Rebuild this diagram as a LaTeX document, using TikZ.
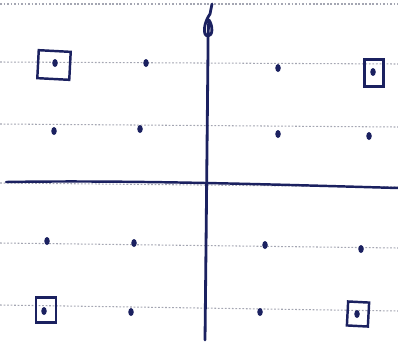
\documentclass[tikz,border=0pt]{standalone}
\usetikzlibrary{shapes.geometric, calc}
\definecolor{cink}{HTML}{1B2160}
\definecolor{crule}{HTML}{A4A6B2}
\tikzset{
  every picture/.style={line width=1.2pt},
  rule/.style={draw=crule, line width=0.6pt, dash pattern=on 1pt off 1pt},
  axis/.style={draw=cink, line width=1.6pt, line cap=round, line join=round},
  pt/.style={ellipse, fill=cink, inner sep=0pt, minimum width=0.11cm, minimum height=0.16cm},
  boxed/.style={draw=cink, line width=1.4pt, inner sep=0pt, fill=none},
}
\begin{document}
\begin{tikzpicture}[x=0.02cm, y=-0.02cm]
  \useasboundingbox (0,0) rectangle (398,342);
  % ruled paper
  \foreach \y/\d in {4/0, 62/2, 124/3, 183/4, 243/5, 305/6}
    \draw[rule] (0,\y) -- (398,\y+\d);
  % axes
  \coordinate (vtop) at (212,4);
  \coordinate (vbot) at (205,340);
  \coordinate (hl) at (6,182);
  \coordinate (hr) at (398,188);
  \draw[axis] (vtop) -- (210,14) .. controls (204,22) and (202,36) .. (208,36)
    .. controls (213,36) and (213,26) .. (209,20) .. controls (208,30) and (208,40) .. (208,50)
    .. controls (207,150) and (206,250) .. (vbot);
  \draw[axis, line width=1.4pt] (hl) .. controls (120,180) and (260,184) .. (hr);
  % dots
  \foreach[count=\r] \row in {{55/63, 146/63, 278/68, 373/72}, {54/131, 140/129, 278/134, 369/136},
      {47/241, 134/243, 265/245, 361/249}, {44/311, 131/312, 260/312, 357/314}} {
    \foreach[count=\c] \x/\y in \row
      \node[pt] (d\r\c) at (\x,\y) {};
  }
  % corner boxes
  \node[boxed, minimum width=0.64cm, minimum height=0.56cm, rotate=-3] (b11) at (54,65) {};
  \node[boxed, minimum width=0.38cm, minimum height=0.54cm] (b14) at (374,73) {};
  \node[boxed, minimum width=0.40cm, minimum height=0.50cm] (b41) at (46,310) {};
  \node[boxed, minimum width=0.42cm, minimum height=0.48cm, rotate=-3] (b44) at (358,314) {};
\end{tikzpicture}
\end{document}
